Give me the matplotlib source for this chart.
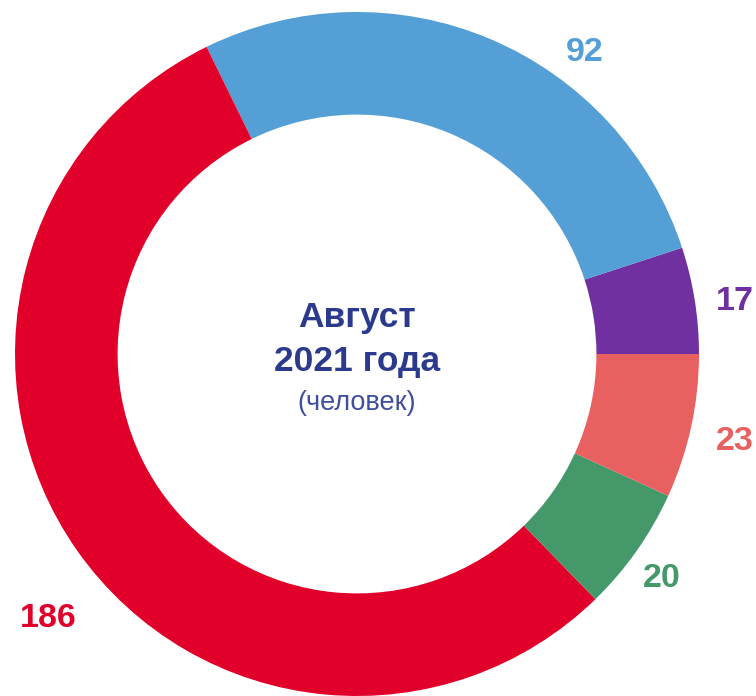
import matplotlib.pyplot as plt
import numpy as np

plt.rcParams["font.family"] = ['Liberation Sans', 'DejaVu Sans']

# data, counter-clockwise from 3 o'clock
values = [17, 92, 186, 20, 23]
labels = ['17', '92', '186', '20', '23']
colors = ['#7030A0', '#539FD6', '#E0002A', '#45986A', '#E96060']

# label placement tweaks (angle offset in degrees, radius)
label_shift = [-1.2, -14.2, 5.45, -1.25, -0.85]
label_rad = [1.116, 1.106, 1.19, 1.108, 1.135]

fig = plt.figure(figsize=(7.56, 6.96), dpi=100)
ax = fig.add_axes([0, 0, 1, 1])

wedges, _ = ax.pie(values, colors=colors, startangle=0, counterclock=True,
                   radius=1.0, wedgeprops=dict(width=0.30, linewidth=0))

# pie resets the limits, so fix them afterwards
R = 342
ax.set_xlim(-357 / R, (756 - 357) / R)
ax.set_ylim(-(696 - 354) / R, 354 / R)
ax.set_aspect('equal')
ax.axis('off')

total = sum(values)
start = 0
for v, lab, c, sh, r in zip(values, labels, colors, label_shift, label_rad):
    mid = start + 360 * v / total / 2 + sh
    start += 360 * v / total
    a = np.deg2rad(mid)
    ax.text(r * np.cos(a), r * np.sin(a), lab, color=c, fontsize=24.5,
            fontweight='bold', ha='center', va='center')

navy = '#2B3A8C'
ax.text(0, (354 - 318) / R, 'Август', color=navy, fontsize=25.5,
        fontweight='bold', ha='center', va='center')
ax.text(0, (354 - 362) / R, '2021 года', color=navy, fontsize=25.5,
        fontweight='bold', ha='center', va='center')
ax.text(0, (354 - 403) / R, '(человек)', color='#3F4E9E', fontsize=19.5,
        ha='center', va='center')

plt.savefig('out.png', dpi=100)
